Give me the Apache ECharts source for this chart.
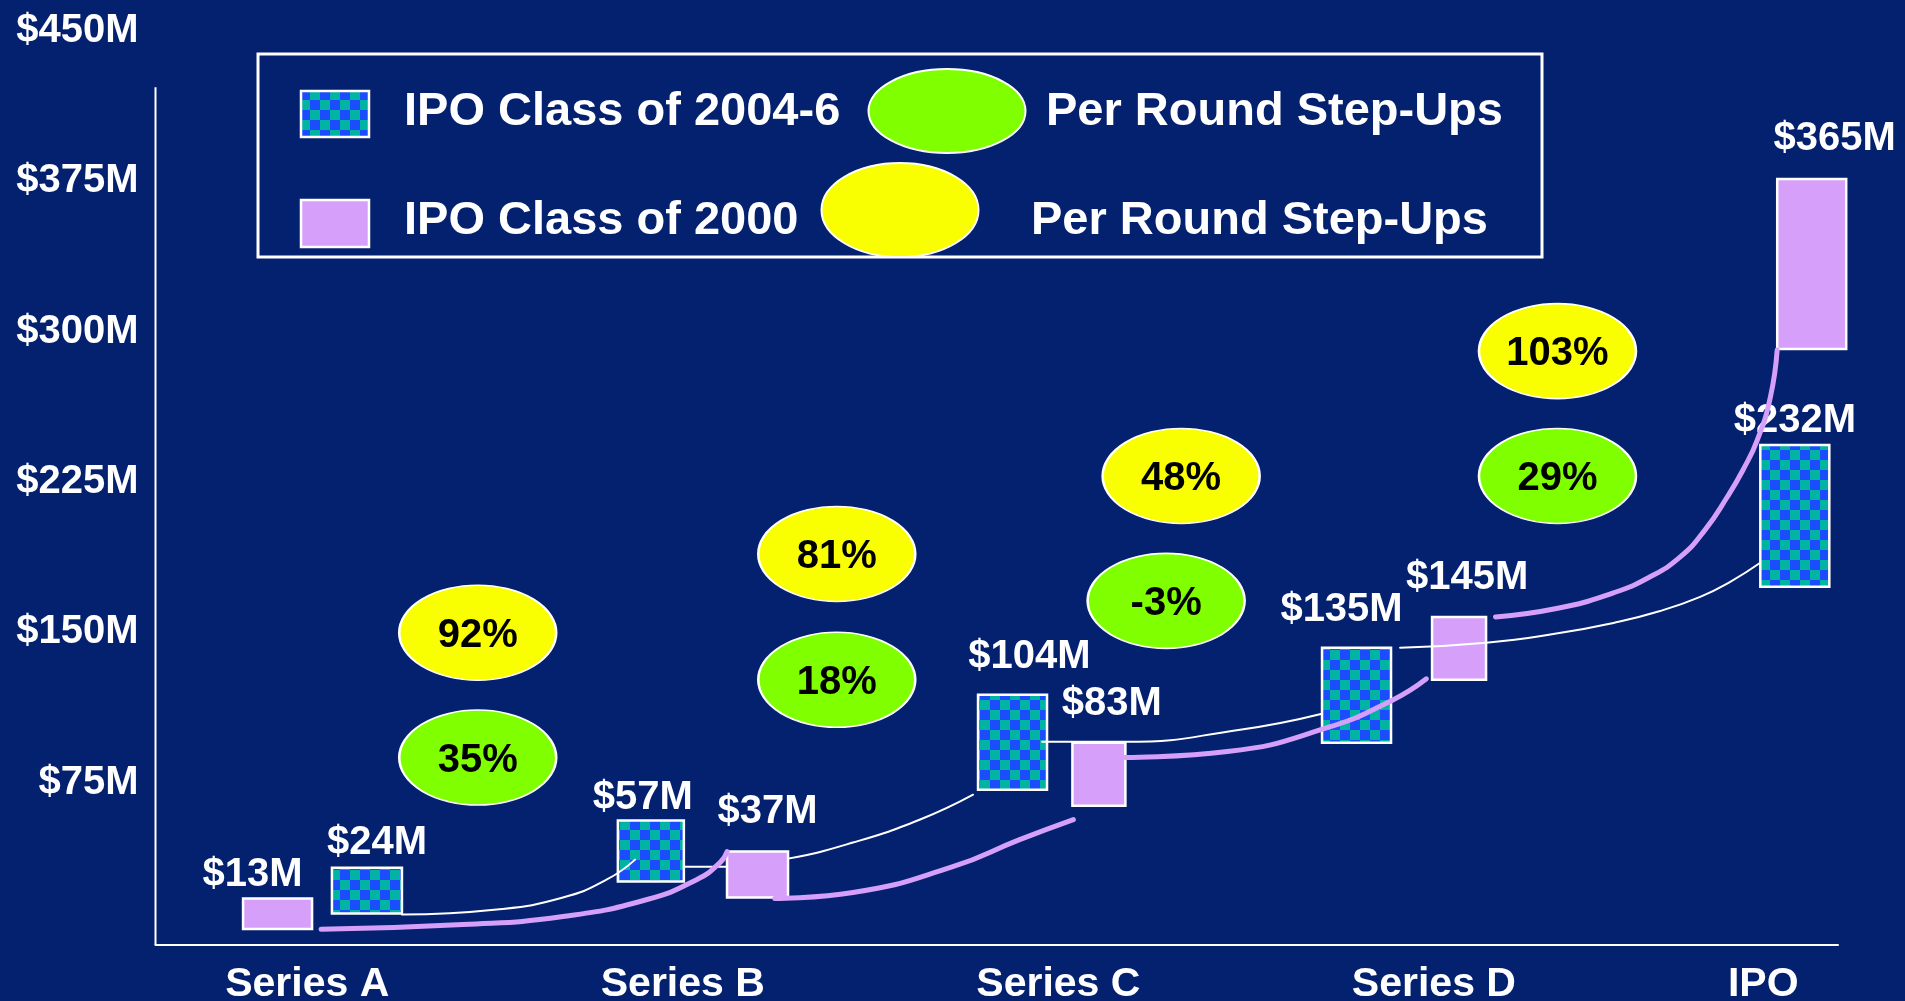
<!DOCTYPE html>
<html lang="en">
<head>
  <meta charset="UTF-8">
  <title>IPO step-ups</title>
  <style>
    html, body { margin: 0; padding: 0; background: #04216f; }
    #main { width: 1905px; height: 1001px; }
  </style>
</head>
<body>
  <div id="main"></div>
  <script src="https://cdn.jsdelivr.net/npm/echarts@6/dist/echarts.min.js"></script>
  <script>
    // ---- data ----
    const categories = ['Series A', 'Series B', 'Series C', 'Series D', 'IPO'];
    const categoryPos = [1, 2, 3, 4, 4.877];
    const yTicks = [75, 150, 225, 300, 375, 450];

    // valuation labels ($M)
    const class2004 = [24, 57, 104, 135, 232];
    const class2000 = [13, 37, 83, 145, 365];

    // floating boxes, low / high in $M
    const class2004Low = [7.7, 23.7, 69.5, 92.9, 170.7];
    const class2004High = [30.6, 54.1, 116.9, 140.3, 241.4];
    const class2000Low = [0, 15.7, 61.5, 124.3, 289.3];
    const class2000High = [15.2, 38.6, 92.9, 155.7, 374.2];

    // per round step-ups (%)
    const stepUps2004 = [35, 18, -3, 29];
    const stepUps2000 = [92, 81, 48, 103];

    // connecting curves, [x, $M]
    const trend2004 = [
      [[1.252, 7.2], [1.505, 9.7], [1.681, 15.7], [1.798, 24.7], [1.873, 34.6]],
      [[1.998, 31.1], [2.118, 31.1], [2.280, 35.1], [2.453, 43.1], [2.632, 54.6], [2.773, 67.0]],
      [[2.957, 93.4], [3.178, 93.4], [3.484, 99.4], [3.702, 107.4]],
      [[3.910, 140.3], [4.139, 142.8], [4.330, 147.5], [4.478, 152.7], [4.600, 158.5], [4.709, 165.7],
       [4.789, 173.2], [4.869, 182.7]]
    ];
    const trend2000 = [
      [[1.037, -0.2], [1.415, 2.2], [1.681, 6.2], [1.905, 14.7], [2.038, 24.7], [2.099, 33.1], [2.118, 38.6]],
      [[2.245, 15.2], [2.453, 18.2], [2.719, 31.1], [2.897, 44.6], [3.040, 54.6]],
      [[3.178, 85.5], [3.450, 88.5], [3.716, 100.4], [3.892, 114.4], [3.980, 124.8]],
      [[4.164, 155.7], [4.330, 160.0], [4.478, 167.7], [4.571, 175.2], [4.656, 185.6], [4.722, 199.1],
       [4.781, 215.5], [4.823, 229.0], [4.861, 243.9], [4.896, 265.4], [4.914, 288.8]]
    ];

    // ---- layout ----
    const X_MIN = 0.596, X_MAX = 5.076, Y_MIN = -8, Y_MAX = 450, Y_AXIS_TOP = 420;
    const box2004X = [1.159, 1.915, 2.878, 3.794, 4.961];
    const box2000X = [0.921, 2.199, 3.108, 4.067, 5.006];
    const box2004W = [70, 66, 69, 69, 69];
    const box2000W = [69, 61, 53, 54, 69];
    const label2004Off = [[10, -25], [-8, -23], [17, -38], [-15, -38], [0, -24]];
    const label2000Off = [[-25, -24], [10, -40], [13, -39], [8, -39], [23, -40]];
    const bubble2004Pos = [[1.454, 85.5], [2.410, 124.3], [3.287, 163.7], [4.329, 226.0]];
    const bubble2000Pos = [[1.454, 147.8], [2.410, 187.1], [3.327, 226.0], [4.329, 288.3]];

    const FONT = '"Liberation Sans", Arial, Helvetica, sans-serif';
    const BG = '#04216f';
    const LAVENDER = '#d6a0fa';
    const YELLOW = '#f9ff00';
    const GREEN = '#80ff00';

    function checker() {
      const c = document.createElement('canvas');
      c.width = 20; c.height = 20;
      const ctx = c.getContext('2d');
      ctx.fillStyle = '#00b3a2';
      ctx.fillRect(0, 0, 20, 20);
      ctx.fillStyle = '#1b4dff';
      ctx.fillRect(10, 0, 10, 10);
      ctx.fillRect(0, 10, 10, 10);
      return c;
    }
    const checkerFill = { image: checker(), repeat: 'repeat' };

    function boxData(xs, ws, lows, highs, vals, offs) {
      return xs.map((x, i) => [x, lows[i], highs[i], ws[i], vals[i], offs[i][0], offs[i][1]]);
    }

    function makeRenderItem(fill) {
      return function (params, api) {
        const x = api.value(0);
        const p0 = api.coord([x, api.value(2)]);
        const p1 = api.coord([x, api.value(1)]);
        const w = api.value(3);
        return {
          type: 'group',
          children: [{
            type: 'rect',
            shape: { x: p0[0] - w / 2, y: p0[1], width: w, height: p1[1] - p0[1] },
            style: { fill: fill, stroke: '#ffffff', lineWidth: 2.5 }
          }, {
            type: 'text',
            x: p0[0] + api.value(5),
            y: p0[1] + api.value(6),
            style: {
              text: '$' + api.value(4) + 'M',
              fill: '#ffffff',
              font: 'bold 40px ' + FONT,
              align: 'center',
              verticalAlign: 'middle'
            }
          }]
        };
      };
    }

    function curveSeries(pts, color, width, z) {
      return {
        type: 'line',
        data: pts,
        smooth: 0.5,
        showSymbol: false,
        silent: true,
        clip: false,
        z: z,
        lineStyle: { color: color, width: width, cap: 'round' }
      };
    }

    function bubbleSeries(pos, vals, color) {
      return {
        type: 'scatter',
        symbol: 'circle',
        symbolSize: [157, 95],
        z: 5,
        silent: true,
        data: pos.map((p, i) => [p[0], p[1], vals[i]]),
        itemStyle: { color: color, borderColor: '#ffffff', borderWidth: 2, opacity: 1 },
        label: {
          show: true,
          position: 'inside',
          offset: [0, 3],
          formatter: (p) => p.value[2] + '%',
          color: '#000000',
          fontSize: 40,
          fontWeight: 'bold',
          fontFamily: FONT
        }
      };
    }

    const series = [];
    // y axis line (stops below the top tick, as in the original)
    series.push({
      type: 'line', silent: true, showSymbol: false, clip: false, z: 1,
      data: [[X_MIN, Y_MIN], [X_MIN, Y_AXIS_TOP]],
      lineStyle: { color: '#ffffff', width: 2 }
    });
    series.push({
      type: 'custom', clip: false, z: 2,
      renderItem: makeRenderItem(checkerFill),
      data: boxData(box2004X, box2004W, class2004Low, class2004High, class2004, label2004Off)
    });
    series.push({
      type: 'custom', clip: false, z: 2,
      renderItem: makeRenderItem(LAVENDER),
      data: boxData(box2000X, box2000W, class2000Low, class2000High, class2000, label2000Off)
    });
    trend2004.forEach((pts, i) => series.push(curveSeries(pts, '#ffffff', 2, i === 1 ? 1 : 3)));
    trend2000.forEach((pts) => series.push(curveSeries(pts, LAVENDER, 5, 3)));
    series.push(bubbleSeries(bubble2000Pos, stepUps2000, YELLOW));
    series.push(bubbleSeries(bubble2004Pos, stepUps2004, GREEN));

    const legendText = (x, y, text) => ({
      type: 'text', x: x, y: y, z: 10,
      style: { text: text, fill: '#ffffff', font: 'bold 47px ' + FONT, verticalAlign: 'middle' }
    });

    const option = {
      backgroundColor: BG,
      animation: false,
      grid: { left: 155.5, right: 67, top: 27, bottom: 56, outerBoundsMode: 'none' },
      xAxis: {
        type: 'value', min: X_MIN, max: X_MAX,
        splitLine: { show: false },
        axisTick: { show: false },
        axisLine: { show: true, onZero: false, lineStyle: { color: '#ffffff', width: 2 } },
        axisLabel: {
          customValues: categoryPos,
          formatter: (v) => categories[categoryPos.indexOf(v)],
          color: '#ffffff', fontSize: 41, fontWeight: 'bold', fontFamily: FONT,
          lineHeight: 41, margin: 19
        }
      },
      yAxis: {
        type: 'value', min: Y_MIN, max: Y_MAX,
        splitLine: { show: false },
        axisTick: { show: false },
        axisLine: { show: false },
        axisLabel: {
          customValues: yTicks,
          formatter: (v) => '$' + v + 'M',
          color: '#ffffff', fontSize: 40, fontWeight: 'bold', fontFamily: FONT,
          verticalAlign: 'top', lineHeight: 8,
          margin: 17
        }
      },
      graphic: [
        { type: 'rect', shape: { x: 258, y: 54, width: 1284, height: 203 },
          style: { fill: 'none', stroke: '#ffffff', lineWidth: 3 }, z: 10 },
        { type: 'rect', shape: { x: 301, y: 91, width: 68, height: 46 },
          style: { fill: checkerFill, stroke: '#ffffff', lineWidth: 2.5 }, z: 10 },
        { type: 'rect', shape: { x: 301, y: 200, width: 68, height: 47 },
          style: { fill: LAVENDER, stroke: '#ffffff', lineWidth: 2.5 }, z: 10 },
        legendText(404, 112, 'IPO Class of 2004-6'),
        legendText(404, 221, 'IPO Class of 2000'),
        { type: 'ellipse', shape: { cx: 947, cy: 111, rx: 78.5, ry: 42 },
          style: { fill: GREEN, stroke: '#ffffff', lineWidth: 2 }, z: 10 },
        { type: 'ellipse', shape: { cx: 900, cy: 210, rx: 78.5, ry: 47 },
          style: { fill: YELLOW, stroke: '#ffffff', lineWidth: 2 }, z: 10 },
        legendText(1046, 112, 'Per Round Step-Ups'),
        legendText(1031, 221, 'Per Round Step-Ups')
      ],
      series: series
    };

    const chart = echarts.init(document.getElementById('main'));
    chart.setOption(option);
  </script>
</body>
</html>
